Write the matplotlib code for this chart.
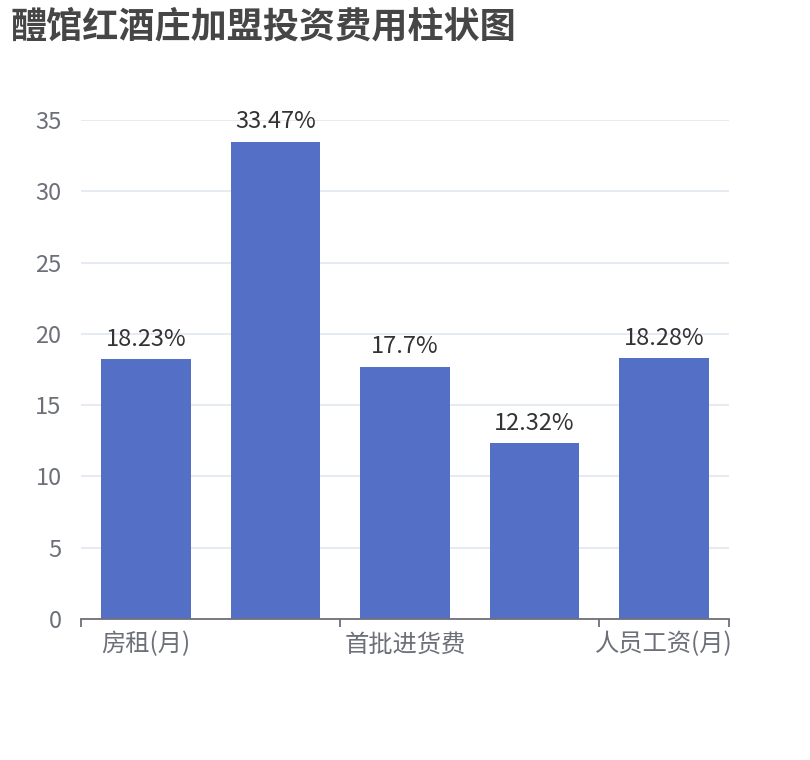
import matplotlib
matplotlib.use("Agg")
import matplotlib.pyplot as plt
from matplotlib.ticker import FixedLocator, FixedFormatter

plt.rcParams['font.family'] = ['Noto Sans CJK SC', 'DejaVu Sans']

title = "醴馆红酒庄加盟投资费用柱状图"
categories = ["房租(月)", "装修费用", "首批进货费", "设备费用", "人员工资(月)"]
values = [18.23, 33.47, 17.7, 12.32, 18.28]
value_labels = ["18.23%", "33.47%", "17.7%", "12.32%", "18.28%"]
y_ticks = [0, 5, 10, 15, 20, 25, 30, 35]

W, H = 810, 760
fig = plt.figure(figsize=(W / 100, H / 100), dpi=100)
ax = fig.add_axes([81 / W, 141 / H, (729 - 81) / W, (619 - 120) / H])

x = list(range(len(categories)))
ax.bar(x, values, width=0.69, color="#5470c6", zorder=3)
for xi, v, lab in zip(x, values, value_labels):
    ax.annotate(lab, (xi, v), xytext=(0, 6), textcoords="offset points",
                ha="center", va="bottom", fontsize=17, color="#333333")

ax.set_xlim(-0.5, len(categories) - 0.5)
ax.set_ylim(0, 35)
ax.set_yticks(y_ticks)
ax.set_yticklabels([str(t) for t in y_ticks])
ax.grid(axis="y", color="#E0E6F1", linewidth=1.2, zorder=0)
ax.tick_params(axis="y", length=0, pad=14, labelsize=17, labelcolor="#6E7079")

shown = [0, 2, 4]
ax.xaxis.set_major_locator(FixedLocator(shown))
ax.xaxis.set_major_formatter(FixedFormatter([categories[i] for i in shown]))
ax.xaxis.set_minor_locator(FixedLocator([-0.5, 1.5, 3.5, 4.5]))
ax.tick_params(axis="x", which="major", length=0, pad=9, labelsize=17.5, labelcolor="#6E7079")
ax.tick_params(axis="x", which="minor", length=6, width=1.3, color="#6E7079", direction="out")

for s in ["top", "right", "left"]:
    ax.spines[s].set_visible(False)
ax.spines["bottom"].set_color("#6E7079")
ax.spines["bottom"].set_linewidth(1.3)
ax.spines["bottom"].set_zorder(4)

fig.text(10 / W, 1 - 9 / H, title, ha="left", va="top", fontsize=26,
         fontweight="bold", color="#464646")

fig.savefig("out.png", dpi=100)
